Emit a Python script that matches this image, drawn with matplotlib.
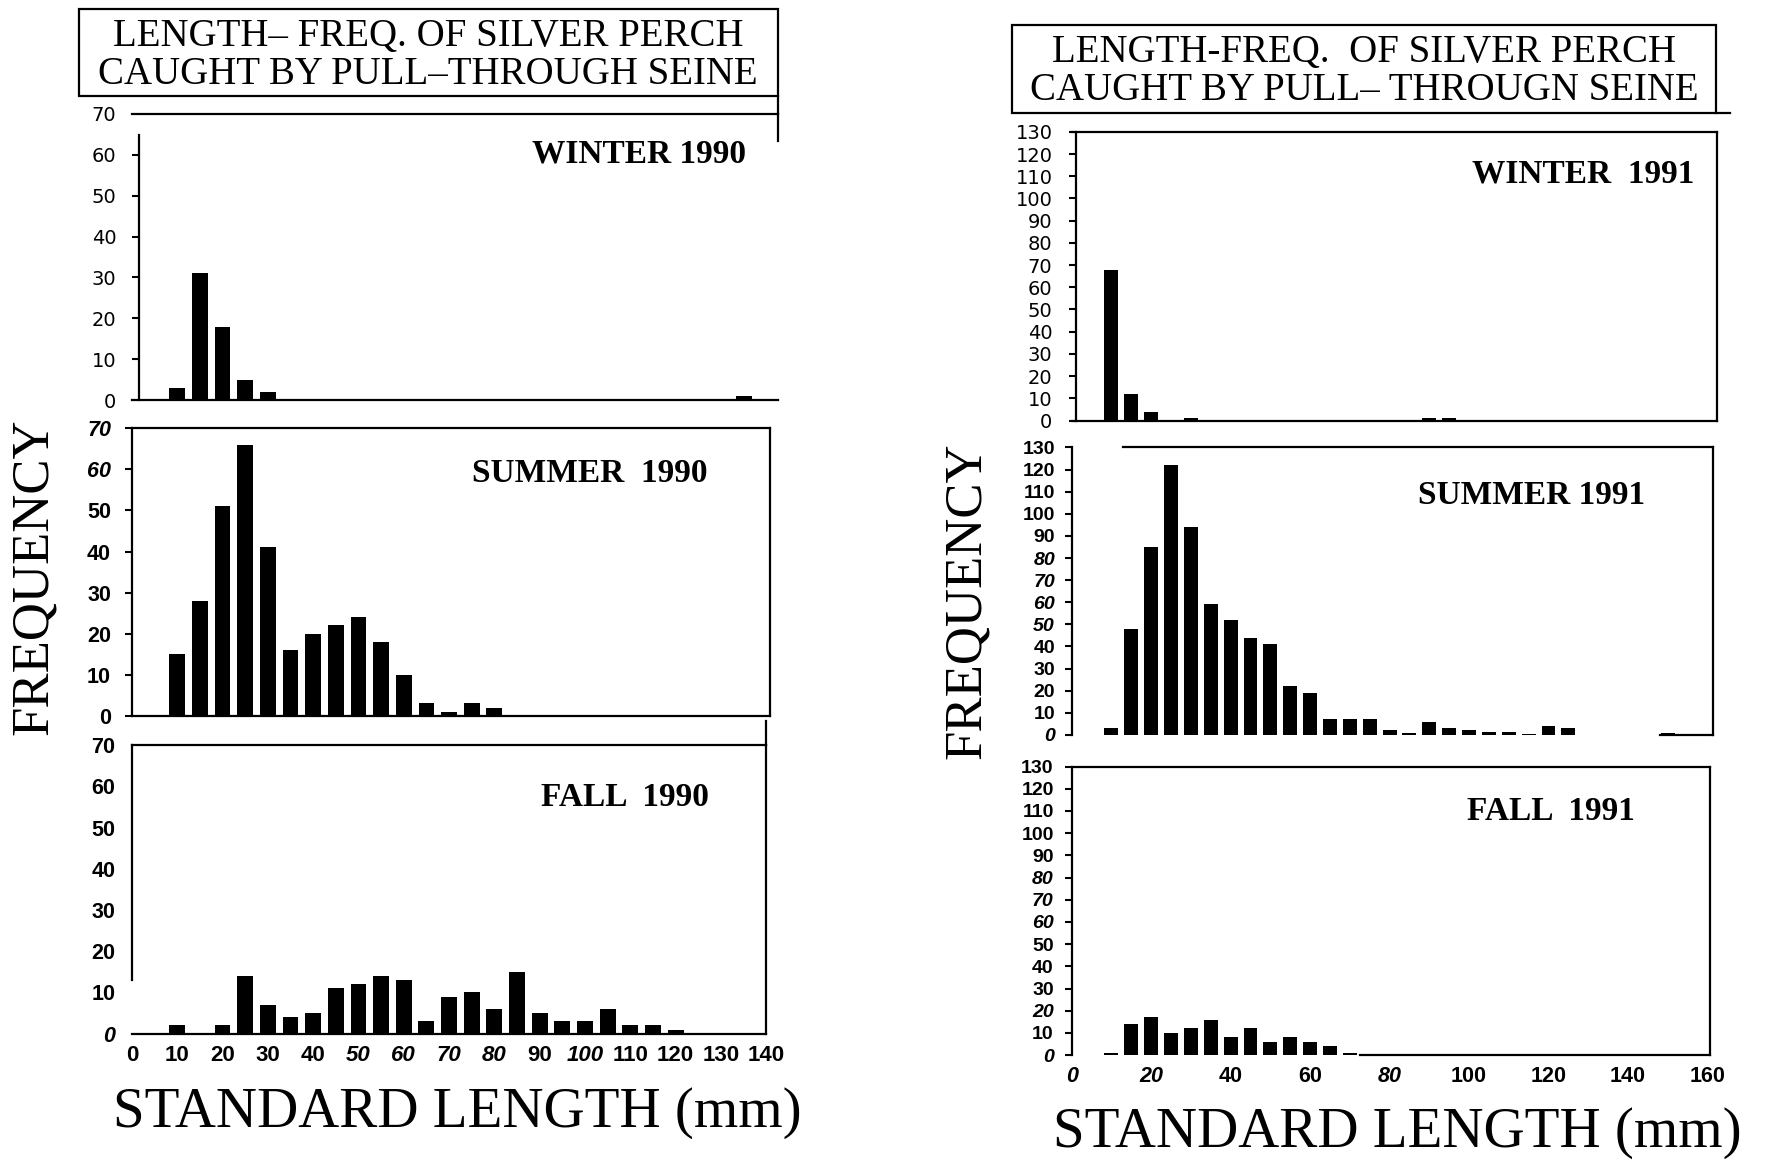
import matplotlib
matplotlib.use("Agg")
import matplotlib.pyplot as plt
from matplotlib.patches import Rectangle

# length-frequency counts of silver perch, bin centre (mm) -> number caught
w90_len = [10, 15, 20, 25, 30, 135]
w90_n = [3, 31, 18, 5, 2, 1]

s90_len = [10, 15, 20, 25, 30, 35, 40, 45, 50, 55, 60, 65, 70, 75, 80]
s90_n = [15, 28, 51, 66, 41, 16, 20, 22, 24, 18, 10, 3, 1, 3, 2]

f90_len = [10, 20, 25, 30, 35, 40, 45, 50, 55, 60, 65, 70, 75, 80, 85,
           90, 95, 100, 105, 110, 115, 120]
f90_n = [2, 2, 14, 7, 4, 5, 11, 12, 14, 13, 3, 9, 10, 6, 15,
         5, 3, 3, 6, 2, 2, 1]

w91_len = [10, 15, 20, 30, 90, 95]
w91_n = [68, 12, 4, 1, 1, 1]

s91_len = [10, 15, 20, 25, 30, 35, 40, 45, 50, 55, 60, 65, 70, 75, 80,
           85, 90, 95, 100, 105, 110, 115, 120, 125, 150]
s91_n = [3, 48, 85, 122, 94, 59, 52, 44, 41, 22, 19, 7, 7, 7, 2,
         1, 6, 3, 2, 1.5, 1.5, 0.5, 4, 3, 1]

f91_len = [10, 15, 20, 25, 30, 35, 40, 45, 50, 55, 60, 65, 70]
f91_n = [1, 14, 17, 10, 12, 16, 8, 12, 6, 8, 6, 4, 1]

yticks_90 = [0, 10, 20, 30, 40, 50, 60, 70]
yticks_91 = [0, 10, 20, 30, 40, 50, 60, 70, 80, 90, 100, 110, 120, 130]
xticks_90 = [0, 10, 20, 30, 40, 50, 60, 70, 80, 90, 100, 110, 120, 130, 140]
xticks_91 = [0, 20, 40, 60, 80, 100, 120, 140, 160]

W, H = 1767, 1161
SERIF = "Liberation Serif"
SANS = "Liberation Sans"

fig = plt.figure(figsize=(W / 100, H / 100), dpi=100)
fig.patch.set_facecolor("white")


def px_axes(left, right, top, bottom):
    return fig.add_axes([left / W, 1 - bottom / H, (right - left) / W, (bottom - top) / H])


def style_labels(labels, ticks, italic, size, weight):
    for lab, t in zip(labels, ticks):
        lab.set_fontfamily(SANS)
        lab.set_fontsize(size)
        lab.set_fontweight(weight)
        lab.set_fontstyle("italic" if t in italic else "normal")


def panel(box, xlim, ylim, lengths, counts, yticks, italic, size, weight, pad, ticklen):
    ax = px_axes(*box)
    ax.bar(lengths, counts, width=3.5, color="black", linewidth=0)
    ax.set_xlim(*xlim)
    ax.set_ylim(*ylim)
    ax.tick_params(axis="y", direction="out", length=ticklen, width=1.5, pad=pad,
                   labelsize=size)
    ax.tick_params(axis="x", length=0, labelbottom=False)
    ax.set_yticks(yticks, labels=[str(t) for t in yticks])
    style_labels(ax.get_yticklabels(), yticks, italic, size, weight)
    for s in ax.spines.values():
        s.set_linewidth(1.6)
    ax.patch.set_alpha(0)
    return ax


def add_xlabels(ax, ticks, italic, size):
    ax.tick_params(axis="x", labelbottom=True, pad=8, labelsize=size)
    ax.set_xticks(ticks, labels=[str(t) for t in ticks])
    style_labels(ax.get_xticklabels(), ticks, italic, size, "bold")


# left column, 1990 seasons
ax = panel((131.9, 777.6, 113.8, 400.2), (0, 142.5), (0, 70), w90_len, w90_n,
           yticks_90, {0, 70}, 14, "normal", 11, 5)
ax.spines["left"].set_position(("data", 1.5))
ax.spines["left"].set_bounds(0, 64.7)
ax.spines["right"].set_bounds(63.4, 70)
ax.yaxis.get_major_ticks()[0].tick1line.set_visible(False)
ax.yaxis.get_major_ticks()[-1].tick1line.set_visible(False)

ax = panel((131.9, 769.9, 428.3, 715.8), (0, 140.8), (0, 70), s90_len, s90_n,
           yticks_90, {60, 70}, 15.5, "bold", 10, 5)

ax = panel((131.9, 766.2, 745.1, 1033.7), (0, 140), (0, 70), f90_len, f90_n,
           yticks_90, {0}, 15.5, "bold", 12, 0)
ax.spines["left"].set_bounds(13, 70)
add_xlabels(ax, xticks_90, {50, 60, 70, 80, 100}, 16)

# right column, 1991 seasons
ax = panel((1071.7, 1716.5, 131.9, 420.5), (0, 162.3), (0, 130), w91_len, w91_n,
           yticks_91, {80, 90}, 14, "normal", 12, 5)
ax.spines["left"].set_position(("data", 1.1))

ax = panel((1071.7, 1713.0, 447.5, 734.9), (0, 161.4), (0, 130), s91_len, s91_n,
           yticks_91, {0, 50, 60, 70, 80}, 14, "bold", 7, 5)
ax.spines["top"].set_bounds(13, 161.4)
ax.spines["bottom"].set_bounds(148, 161.4)

ax = panel((1071.7, 1709.8, 766.6, 1055.1), (0, 160.6), (0, 130), f91_len, f91_n,
           yticks_91, {0, 20, 60, 70, 80}, 14, "bold", 8, 5)
ax.spines["bottom"].set_bounds(72.5, 160.6)
add_xlabels(ax, xticks_91, {0, 20, 80}, 15.5)

# titles, frames and axis captions in pixel space
ov = fig.add_axes([0, 0, 1, 1])
ov.set_xlim(0, W)
ov.set_ylim(H, 0)
ov.axis("off")

ov.add_patch(Rectangle((79, 9), 699, 87, fill=False, lw=1.6, ec="black"))
ov.plot([777.6, 777.6], [96, 113.8], color="black", lw=1.6)
ov.plot([766.2, 766.2], [721, 745.1], color="black", lw=1.6)
ov.add_patch(Rectangle((1012, 25), 704, 88, fill=False, lw=1.6, ec="black"))
ov.plot([1716, 1730], [113, 113], color="black", lw=1.6)

ov.text(428, 36, "LENGTH\u2013 FREQ. OF SILVER PERCH", family=SERIF, fontsize=28,
        ha="center", va="center")
ov.text(428, 74, "CAUGHT BY PULL\u2013THROUGH SEINE", family=SERIF, fontsize=28,
        ha="center", va="center")
ov.text(1364, 53, "LENGTH-FREQ.  OF SILVER PERCH", family=SERIF, fontsize=28,
        ha="center", va="center")
ov.text(1364, 91, "CAUGHT BY PULL\u2013 THROUGN SEINE", family=SERIF, fontsize=28,
        ha="center", va="center")

seasons = [(746, 154, "WINTER 1990"), (707, 473, "SUMMER  1990"),
           (709, 797, "FALL  1990"), (1694, 174, "WINTER  1991"),
           (1645, 496, "SUMMER 1991"), (1635, 812, "FALL  1991")]
for x, y, s in seasons:
    ov.text(x, y, s, family=SERIF, fontsize=24, fontweight="bold",
            ha="right", va="center")

for x, y in [(34, 577), (967, 601)]:
    ov.text(x, y, "FREQUENCY", family=SERIF, fontsize=38, rotation=90,
            ha="center", va="center")
for x, y in [(457, 1113), (1397, 1133)]:
    ov.text(x, y, "STANDARD LENGTH (mm)", family=SERIF, fontsize=41,
            ha="center", va="center")

fig.savefig("out.png", dpi=100, facecolor="white")
